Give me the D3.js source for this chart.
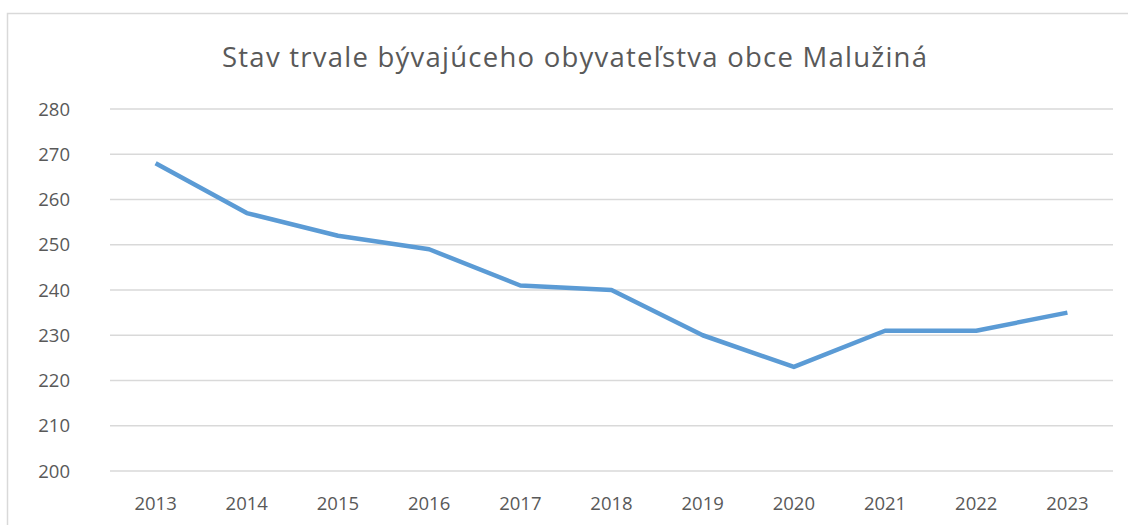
<!DOCTYPE html>
<html><head><meta charset="utf-8">
<script src="https://cdn.jsdelivr.net/npm/d3@7"></script>
<style>body{margin:0;background:#fff;}svg{display:block;}</style>
</head><body>
<svg id="c" width="1128" height="525"></svg>
<script>
const years = ["2013","2014","2015","2016","2017","2018","2019","2020","2021","2022","2023"];
const population = [268, 257, 252, 249, 241, 240, 230, 223, 231, 231, 235];
const yTicks = [200, 210, 220, 230, 240, 250, 260, 270, 280];
const title = "Stav trvale bývajúceho obyvateľstva obce Malužiná";

(function () {
const svg = d3.select("#c");
const font = "'Open Sans', 'Liberation Sans', sans-serif";
const textColor = "#595959";

svg.append("rect").attr("x", 7.5).attr("y", 13.5).attr("width", 1140).attr("height", 540)
  .attr("fill", "#fff").attr("stroke", "#d9d9d9").attr("stroke-width", 1.5);

const pLeft = 110, pRight = 1113, pTop = 109, pBottom = 471;
const x = d3.scaleBand().domain(years).range([pLeft, pRight]);
const y = d3.scaleLinear().domain([200, 280]).range([pBottom, pTop]);

svg.append("text").attr("x", 574.5).attr("y", 67).attr("text-anchor", "middle")
  .attr("font-family", font).attr("font-size", 27.5).attr("fill", textColor)
  .attr("textLength", 705).attr("lengthAdjust", "spacing").text(title);

const g = svg.append("g");
g.selectAll("line.grid").data(yTicks).join("line").attr("class", "grid")
  .attr("x1", pLeft).attr("x2", pRight).attr("y1", d => y(d)).attr("y2", d => y(d))
  .attr("stroke", "#d9d9d9").attr("stroke-width", 1.3);

g.selectAll("text.yl").data(yTicks).join("text").attr("class", "yl")
  .attr("x", 70).attr("y", d => y(d)).attr("dy", "0.36em").attr("text-anchor", "end")
  .attr("font-family", font).attr("font-size", 18.5).attr("fill", textColor).text(d => d);

g.selectAll("text.xl").data(years).join("text").attr("class", "xl")
  .attr("x", d => x(d) + x.bandwidth() / 2).attr("y", 510).attr("text-anchor", "middle")
  .attr("font-family", font).attr("font-size", 18.5).attr("fill", textColor).text(d => d);

const line = d3.line().x((d, i) => x(years[i]) + x.bandwidth() / 2).y(d => y(d));
svg.append("path").datum(population).attr("d", line).attr("fill", "none")
  .attr("stroke", "#5b9bd5").attr("stroke-width", 4.5).attr("stroke-linejoin", "round");
})();
</script>
</body></html>
